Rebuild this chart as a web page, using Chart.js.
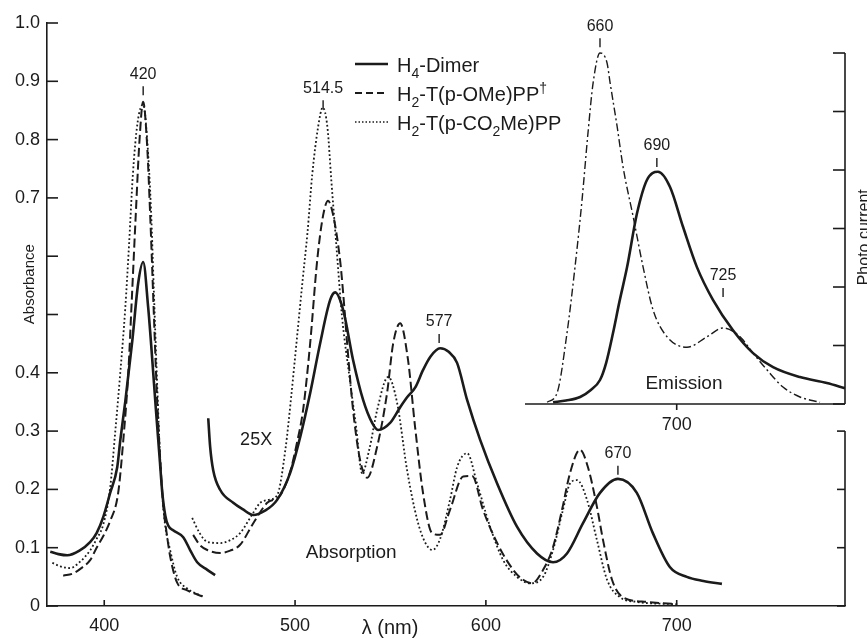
<!DOCTYPE html>
<html>
<head>
<meta charset="utf-8">
<title>Absorption and emission spectra</title>
<script src="https://cdn.jsdelivr.net/npm/chart.js@4.4.1/dist/chart.umd.min.js"></script>
<style>
  html, body { margin: 0; padding: 0; background: #fff; }
</style>
</head>
<body>
<canvas id="myChart" width="867" height="639"></canvas>
<script>
// axis ticks
const xTicks = [400, 500, 600, 700];
const yTicks = [0, 0.1, 0.2, 0.3, 0.4, 0.5, 0.6, 0.7, 0.8, 0.9, 1.0];
const yTickLabels = ['0', '0.1', '0.2', '0.3', '0.4', '', '', '0.7', '0.8', '0.9', '1.0'];
const rightTicks = [0, 0.1, 0.2, 0.3];
const emissionTicks = [0, 1, 2, 3, 4, 5, 6];
const insetXTicks = [700];
const insetStartNm = 620.5;

// H4-Dimer absorption (Soret band, then the 25X visible band)
const dimerSoretNm = [371.7, 376, 380.6, 387, 392.7, 396, 399.5, 403.1, 406.8, 408.4, 411.0, 414.7, 417.8, 420.4, 423.0, 425.0, 427.0, 429.0, 430.4, 432.0, 433.5, 436.1, 441.4, 445.0, 448.7, 454.0, 458.1];
const dimerSoretA = [0.093, 0.089, 0.087, 0.095, 0.11, 0.125, 0.153, 0.194, 0.238, 0.284, 0.35, 0.455, 0.554, 0.59, 0.513, 0.43, 0.34, 0.255, 0.195, 0.155, 0.138, 0.13, 0.118, 0.096, 0.075, 0.062, 0.053];
const dimerQNm = [454.5, 455.5, 457.1, 460.8, 467.6, 472.5, 478.1, 484, 490.6, 497.4, 502.7, 507.9, 513.1, 518.4, 521.0, 525.2, 530.4, 535.7, 540.4, 543.5, 549.8, 555.1, 558.7, 563, 567.1, 571, 576.0, 580.5, 584.9, 590.2, 597.0, 605.9, 616.3, 626.8, 635.2, 642.5, 650.9, 659.8, 669.2, 679.1, 687.5, 696.4, 705.3, 714, 723.7];
const dimerQA = [0.322, 0.273, 0.233, 0.199, 0.177, 0.166, 0.156, 0.163, 0.182, 0.228, 0.29, 0.365, 0.45, 0.525, 0.538, 0.508, 0.422, 0.353, 0.314, 0.302, 0.314, 0.341, 0.358, 0.375, 0.405, 0.428, 0.442, 0.436, 0.417, 0.353, 0.285, 0.21, 0.136, 0.09, 0.075, 0.09, 0.142, 0.194, 0.218, 0.194, 0.125, 0.067, 0.05, 0.043, 0.038];

// H2-T(p-OMe)PP absorption
const omeSoretNm = [378.5, 383.8, 388, 392.7, 396, 399.5, 403, 407.3, 410, 412.6, 414.5, 416.5, 418.5, 420.4, 422.3, 424.2, 426, 427.5, 429, 431.0, 432.5, 434.6, 438.2, 443.5, 451.9];
const omeSoretA = [0.052, 0.056, 0.065, 0.079, 0.1, 0.12, 0.145, 0.194, 0.285, 0.4, 0.53, 0.67, 0.8, 0.865, 0.8, 0.66, 0.5, 0.37, 0.27, 0.17, 0.13, 0.084, 0.04, 0.027, 0.016];
const omeQNm = [446.6, 450, 454.0, 460.8, 466, 471.2, 478.1, 485.4, 492.2, 497.4, 501, 504.2, 507.9, 511.6, 514.7, 517.3, 520, 523.6, 525.2, 527.3, 530.4, 534.1, 537.8, 543.0, 548.2, 551.4, 555.1, 559.2, 562.9, 567.1, 571.8, 576.0, 581.2, 588.1, 592.8, 598.5, 605.9, 614.3, 619.5, 624.2, 630.0, 635.2, 639.9, 644.1, 649.3, 653.5, 658.2, 661.4, 666.1, 671.9, 684.4, 700.2];
const omeQA = [0.122, 0.105, 0.096, 0.091, 0.095, 0.105, 0.142, 0.177, 0.19, 0.23, 0.28, 0.336, 0.45, 0.593, 0.67, 0.695, 0.67, 0.593, 0.537, 0.45, 0.336, 0.25, 0.22, 0.273, 0.365, 0.45, 0.485, 0.422, 0.307, 0.193, 0.125, 0.122, 0.165, 0.222, 0.223, 0.165, 0.108, 0.062, 0.045, 0.039, 0.062, 0.101, 0.165, 0.228, 0.268, 0.238, 0.17, 0.113, 0.045, 0.015, 0.007, 0.003];

// H2-T(p-CO2Me)PP absorption
const co2meSoretNm = [372.8, 377, 382.2, 387, 392.7, 396, 399.5, 403, 405.8, 408.4, 411.0, 413, 415, 417.5, 420.4, 422.5, 424.5, 426, 427.5, 429.5, 431.5, 434.6, 438.2, 443.5, 451.9];
const co2meSoretA = [0.074, 0.068, 0.065, 0.075, 0.096, 0.115, 0.14, 0.2, 0.3, 0.4, 0.51, 0.62, 0.74, 0.83, 0.86, 0.8, 0.68, 0.54, 0.4, 0.24, 0.15, 0.095, 0.05, 0.03, 0.016];
const co2meQNm = [446.1, 450, 454.0, 460.8, 466, 471.2, 478.1, 481.7, 486, 490.6, 495, 498, 501, 504, 506.5, 509, 512, 514.5, 517, 519, 521.7, 524.5, 528.5, 532, 535.1, 539, 543.0, 548.8, 553.5, 558.7, 564.0, 568, 572, 576, 581.2, 584.9, 590.2, 595.4, 602.2, 609.0, 616.3, 623.2, 630.0, 635.2, 640.4, 644.1, 647.8, 653.0, 658.2, 663.5, 670.3, 679.2, 700.2];
const co2meQA = [0.151, 0.125, 0.11, 0.108, 0.113, 0.125, 0.16, 0.177, 0.182, 0.19, 0.27, 0.36, 0.46, 0.56, 0.64, 0.74, 0.82, 0.855, 0.82, 0.73, 0.616, 0.5, 0.393, 0.307, 0.228, 0.27, 0.336, 0.393, 0.348, 0.233, 0.148, 0.11, 0.096, 0.115, 0.182, 0.238, 0.262, 0.21, 0.136, 0.079, 0.05, 0.039, 0.05, 0.096, 0.165, 0.21, 0.216, 0.182, 0.113, 0.045, 0.015, 0.007, 0.003];

// emission (photo current, arbitrary units = tick count)
const dimerEmNm = [635.2, 642, 649.4, 655, 659.8, 663, 666.6, 670, 674.0, 679.2, 684.4, 690.2, 696.5, 703.3, 710.6, 719.0, 729.5, 740.0, 750.5, 764.6, 778.7, 788.2];
const dimerEm = [0.03, 0.06, 0.12, 0.24, 0.41, 0.7, 1.21, 1.75, 2.34, 3.26, 3.83, 3.97, 3.71, 3.03, 2.34, 1.78, 1.26, 0.87, 0.63, 0.46, 0.36, 0.27];
const omeEmNm = [632.1, 637.3, 642.5, 646.7, 650.4, 653.5, 656.2, 659.8, 663.5, 665.1, 668.8, 671.9, 677.2, 682.4, 687.6, 694.9, 705.4, 715.9, 724.3, 733.2, 740.0, 747.4, 755.7, 764.6, 775.1];
const omeEm = [0.03, 0.19, 1.21, 2.34, 3.49, 4.63, 5.49, 6.0, 5.83, 5.49, 4.74, 4.05, 3.2, 2.34, 1.61, 1.15, 0.97, 1.15, 1.3, 1.15, 0.87, 0.58, 0.29, 0.12, 0.03];

// peak marks: wavelength, level of tick foot, label, axis
const peakNm = [420.4, 514.7, 575.5, 669.2, 659.8, 689.6, 724.3];
const peakLevel = [0.876, 0.852, 0.451, 0.225, 6.1, 4.05, 1.83];
const peakText = ['420', '514.5', '577', '670', '660', '690', '725'];
const peakAxis = ['y', 'y', 'y', 'y', 'y2', 'y2', 'y2'];

const legendNames = [
    [{t: 'H'}, {t: '4', sub: true}, {t: '-Dimer'}],
    [{t: 'H'}, {t: '2', sub: true}, {t: '-T(p-OMe)PP'}, {t: '\u2020', sup: true}],
    [{t: 'H'}, {t: '2', sub: true}, {t: '-T(p-CO'}, {t: '2', sub: true}, {t: 'Me)PP'}]
];

const FONT = '"Liberation Sans", Arial, sans-serif';
const INK = '#1b1b1b';
const DASH = [9, 4];
const DOT = [1.8, 2.4];
const DASHDOT = [8, 3, 2, 3];

function pts(xs, ys) {
    return xs.map((v, i) => ({x: v, y: ys[i]}));
}

function series(xs, ys, width, dash, axis) {
    return {
        data: pts(xs, ys),
        borderColor: INK,
        borderWidth: width,
        borderDash: dash,
        yAxisID: axis,
        pointRadius: 0,
        fill: false,
        cubicInterpolationMode: 'monotone'
    };
}

function drawRich(ctx, parts, x, y, size) {
    parts.forEach(p => {
        const s = (p.sub || p.sup) ? Math.round(size * 0.72) : size;
        ctx.font = s + 'px ' + FONT;
        const dy = p.sub ? size * 0.3 : (p.sup ? -size * 0.42 : 0);
        ctx.fillText(p.t, x, y + dy);
        x += ctx.measureText(p.t).width;
    });
}

const framePlugin = {
    id: 'frame',
    afterDraw(chart) {
        const {ctx, chartArea: a} = chart;
        const {x, y, y2} = chart.scales;
        const sc = {y: y, y2: y2};
        ctx.save();
        ctx.strokeStyle = INK;
        ctx.fillStyle = INK;
        ctx.lineWidth = 1.6;
        const line = (x1, y1, x2, yy2) => {
            ctx.beginPath();
            ctx.moveTo(x1, y1);
            ctx.lineTo(x2, yy2);
            ctx.stroke();
        };
        const text = (s, px, py, size) => {
            ctx.font = size + 'px ' + FONT;
            ctx.textAlign = 'center';
            ctx.textBaseline = 'middle';
            ctx.fillText(s, px, py);
        };

        // inward ticks on the main axes
        yTicks.forEach(v => line(a.left, y.getPixelForValue(v), a.left + 11, y.getPixelForValue(v)));
        xTicks.forEach(v => line(x.getPixelForValue(v), a.bottom, x.getPixelForValue(v), a.bottom - 6));

        // short right axis of the absorption panel
        const r = a.right;
        line(r, y.getPixelForValue(0), r, y.getPixelForValue(rightTicks[rightTicks.length - 1]));
        rightTicks.forEach(v => line(r, y.getPixelForValue(v), r - 8, y.getPixelForValue(v)));

        // emission inset axes
        const e0 = y2.getPixelForValue(0);
        line(x.getPixelForValue(insetStartNm), e0, r, e0);
        line(r, e0, r, y2.getPixelForValue(emissionTicks[emissionTicks.length - 1]));
        emissionTicks.forEach(v => line(r, y2.getPixelForValue(v), r - 12, y2.getPixelForValue(v)));
        insetXTicks.forEach(v => {
            const px = x.getPixelForValue(v);
            line(px, e0, px, e0 + 6);
            text(String(v), px, e0 + 21, 18);
        });

        // peak marks
        ctx.lineWidth = 1.4;
        peakNm.forEach((nm, i) => {
            const px = x.getPixelForValue(nm);
            const py = sc[peakAxis[i]].getPixelForValue(peakLevel[i]);
            line(px, py, px, py - 9);
            text(peakText[i], px, py - 21, 16);
        });

        // panel notes
        text('25X', x.getPixelForValue(479.6), y.getPixelForValue(0.285), 18);
        text('Absorption', x.getPixelForValue(529.4), y.getPixelForValue(0.091), 19);
        text('Emission', x.getPixelForValue(703.8), y2.getPixelForValue(0.34), 19);
        text('\u03bb (nm)', x.getPixelForValue(549.8), a.bottom + 22, 20);

        // rotated axis titles
        ctx.save();
        ctx.translate(22, y.getPixelForValue(0.552));
        ctx.rotate(-Math.PI / 2);
        ctx.textAlign = 'center';
        ctx.textBaseline = 'top';
        ctx.font = '15px ' + FONT;
        ctx.fillText('Absorbance', 0, 0);
        ctx.restore();
        ctx.save();
        ctx.translate(857, y2.getPixelForValue(2.85));
        ctx.rotate(-Math.PI / 2);
        ctx.textAlign = 'center';
        ctx.textBaseline = 'top';
        ctx.font = '16px ' + FONT;
        ctx.fillText('Photo current', 0, 0);
        ctx.restore();

        // legend
        const styles = [
            {w: 2.6, d: []},
            {w: 2, d: [7, 4]},
            {w: 1.5, d: [1.5, 2]}
        ];
        legendNames.forEach((parts, i) => {
            const ly = a.top + 41 + i * 29;
            ctx.lineWidth = styles[i].w;
            ctx.setLineDash(styles[i].d);
            line(a.left + 308, ly, a.left + 341, ly);
            ctx.setLineDash([]);
            ctx.textAlign = 'left';
            ctx.textBaseline = 'alphabetic';
            drawRich(ctx, parts, a.left + 350, ly + 8, 20);
        });
        ctx.restore();
    }
};

const ctx = document.getElementById('myChart');

new Chart(ctx, {
    type: 'line',
    data: {
        datasets: [
            series(dimerSoretNm, dimerSoretA, 2.6, [], 'y'),
            series(dimerQNm, dimerQA, 2.6, [], 'y'),
            series(omeSoretNm, omeSoretA, 2, DASH, 'y'),
            series(omeQNm, omeQA, 2, DASH, 'y'),
            series(co2meSoretNm, co2meSoretA, 1.8, DOT, 'y'),
            series(co2meQNm, co2meQA, 1.8, DOT, 'y'),
            series(dimerEmNm, dimerEm, 2.6, [], 'y2'),
            series(omeEmNm, omeEm, 1.4, DASHDOT, 'y2')
        ]
    },
    options: {
        responsive: false,
        animation: false,
        layout: {
            padding: {left: 0, right: 22, top: 23, bottom: 0}
        },
        plugins: {
            legend: {display: false},
            tooltip: {enabled: false}
        },
        scales: {
            x: {
                type: 'linear',
                min: 370,
                max: 788.2,
                afterBuildTicks: s => { s.ticks = xTicks.map(v => ({value: v})); },
                afterFit: s => { s.height = 33; },
                grid: {display: false, drawTicks: false},
                border: {display: true, color: INK, width: 1.6},
                ticks: {
                    padding: 9,
                    color: INK,
                    font: {family: FONT, size: 18}
                }
            },
            y: {
                type: 'linear',
                min: 0,
                max: 1.0,
                afterBuildTicks: s => { s.ticks = yTicks.map(v => ({value: v})); },
                afterFit: s => { s.width = 47; },
                grid: {display: false, drawTicks: false},
                border: {display: true, color: INK, width: 1.6},
                ticks: {
                    padding: 7,
                    color: INK,
                    font: {family: FONT, size: 18},
                    callback: (v, i) => yTickLabels[i]
                }
            },
            y2: {
                type: 'linear',
                display: false,
                min: -3.453,
                max: 6.513
            }
        }
    },
    plugins: [framePlugin]
});
</script>
</body>
</html>
